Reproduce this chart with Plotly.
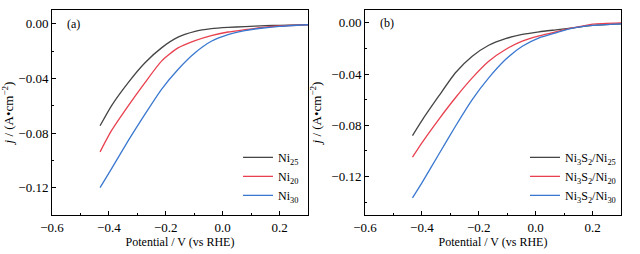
import plotly.graph_objects as go

# Panel (a)
pot_a = [-0.431, -0.391, -0.332, -0.273, -0.215, -0.157, -0.097, -0.040, 0.019, 0.078, 0.15, 0.20, 0.30]
ni25 = [-0.0747, -0.0601, -0.0431, -0.0286, -0.0177, -0.0099, -0.0056, -0.0036, -0.0027, -0.0022, -0.0015, -0.0012, -0.0007]
ni20 = [-0.0938, -0.0783, -0.0601, -0.0431, -0.0274, -0.0177, -0.0124, -0.0087, -0.0061, -0.0044, -0.0025, -0.0017, -0.0008]
ni30 = [-0.1200, -0.1062, -0.0856, -0.0662, -0.0480, -0.0335, -0.0213, -0.0129, -0.0080, -0.0051, -0.0030, -0.0020, -0.0008]

# Panel (b)
pot_b = [-0.433, -0.400, -0.341, -0.282, -0.223, -0.165, -0.106, -0.047, 0.012, 0.071, 0.13, 0.20, 0.30]
ns25 = [-0.0880, -0.0763, -0.0573, -0.0390, -0.0261, -0.0175, -0.0123, -0.0091, -0.0070, -0.0055, -0.0040, -0.0020, -0.0008]
ns20 = [-0.1049, -0.0937, -0.0755, -0.0585, -0.0430, -0.0300, -0.0208, -0.0143, -0.0102, -0.0070, -0.0040, -0.0010, 0.0000]
ns30 = [-0.1366, -0.1249, -0.1028, -0.0807, -0.0599, -0.0430, -0.0287, -0.0183, -0.0117, -0.0078, -0.0042, -0.0020, -0.0008]

names_a = ["Ni<sub>25</sub>", "Ni<sub>20</sub>", "Ni<sub>30</sub>"]
names_b = ["Ni<sub>3</sub>S<sub>2</sub>/Ni<sub>25</sub>", "Ni<sub>3</sub>S<sub>2</sub>/Ni<sub>20</sub>",
           "Ni<sub>3</sub>S<sub>2</sub>/Ni<sub>30</sub>"]
colors = ["#454545", "#e8404f", "#3a78d0"]

FONT = "Liberation Serif, Times New Roman, serif"
fig = go.Figure()
for ys, nm, c in zip([ni25, ni20, ni30], names_a, colors):
    fig.add_trace(go.Scatter(x=pot_a, y=ys, name=nm, mode="lines", line=dict(color=c, width=1.3, shape="spline", smoothing=0.6),
                             xaxis="x", yaxis="y", legend="legend"))
for ys, nm, c in zip([ns25, ns20, ns30], names_b, colors):
    fig.add_trace(go.Scatter(x=pot_b, y=ys, name=nm, mode="lines", line=dict(color=c, width=1.3, shape="spline", smoothing=0.6),
                             xaxis="x2", yaxis="y2", legend="legend2"))

axis_common = dict(showline=True, linecolor="black", linewidth=1, mirror=True, ticks="inside", ticklen=4,
                   tickcolor="black", showgrid=False, zeroline=False, automargin=False,
                   tickfont=dict(family=FONT, size=13, color="black"))
xcommon = dict(axis_common, range=[-0.6, 0.3], dtick=0.2, tick0=-0.6, tickformat=".1f",
               minor=dict(ticks="inside", ticklen=2, dtick=0.1, tick0=-0.6, tickcolor="black"),
               title=dict(text="Potential / V (vs RHE)", font=dict(family=FONT, size=12, color="black"), standoff=0))
ytitle = dict(text="<i>j</i> / (A•cm<sup>−2</sup>)", font=dict(family=FONT, size=13, color="black"), standoff=6)

L, R = 52, 19
W = 640 - L - R
fig.update_layout(
    width=640, height=254, margin=dict(l=L, r=R, t=10, b=39),
    paper_bgcolor="white", plot_bgcolor="white",
    xaxis=dict(xcommon, domain=[0, 256 / W], anchor="y"),
    yaxis=dict(axis_common, range=[-0.14, 0.01], dtick=0.04, tick0=0, tickformat=".2f",
               minor=dict(ticks="inside", ticklen=2, dtick=0.02, tick0=0, tickcolor="black"),
               title=ytitle, anchor="x"),
    xaxis2=dict(xcommon, domain=[(365 - L) / W, 1], anchor="y2"),
    yaxis2=dict(axis_common, range=[-0.15, 0.01], dtick=0.04, tick0=0, tickformat=".2f",
                minor=dict(ticks="inside", ticklen=2, dtick=0.02, tick0=0, tickcolor="black"),
                title=ytitle, anchor="x2"),
    legend=dict(x=(304 - L) / W, xanchor="right", y=0.025, yanchor="bottom",
                font=dict(family=FONT, size=12, color="black"), bgcolor="rgba(0,0,0,0)", tracegroupgap=0,
                itemwidth=30),
    legend2=dict(x=1.0, xanchor="right", y=0.025, yanchor="bottom",
                 font=dict(family=FONT, size=12, color="black"), bgcolor="rgba(0,0,0,0)", tracegroupgap=0,
                 itemwidth=30),
    annotations=[
        dict(text="(a)", x=0.05, y=0.0, xref="x domain", yref="y", xanchor="left", yanchor="middle",
             showarrow=False, font=dict(family=FONT, size=12, color="black")),
        dict(text="(b)", x=0.05, y=0.0, xref="x2 domain", yref="y2", xanchor="left", yanchor="middle",
             showarrow=False, font=dict(family=FONT, size=12, color="black")),
    ],
)
fig.write_html("out.html", config={"displayModeBar": False},
               post_script="document.body.style.margin='0';document.body.style.padding='0';")
